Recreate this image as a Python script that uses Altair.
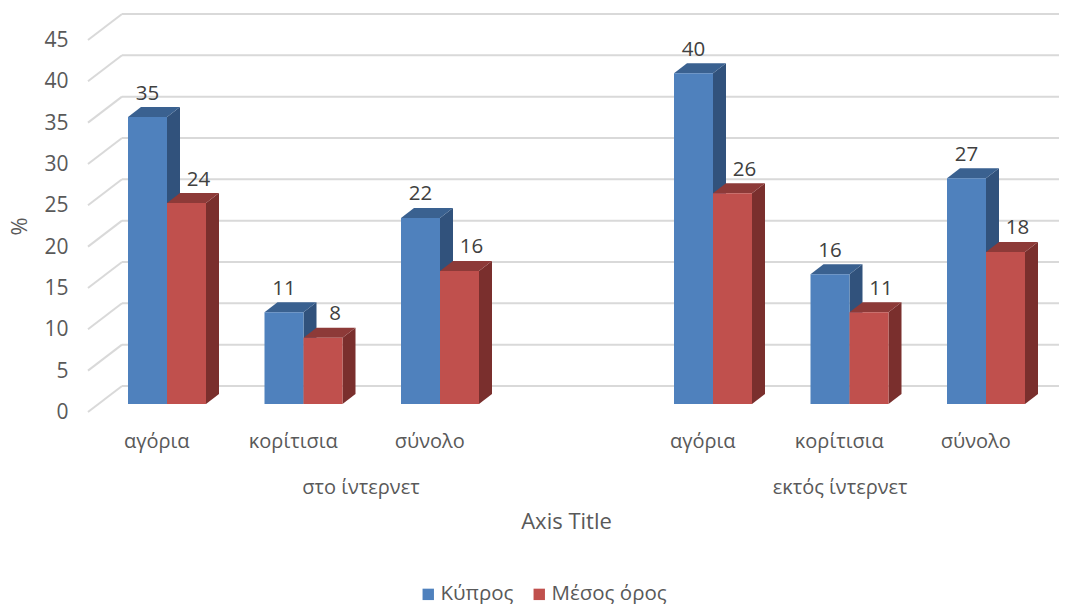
import altair as alt
import pandas as pd

FONT = "Open Sans"
categories = ["αγόρια", "κορίτισια", "σύνολο", "αγόρια", "κορίτισια", "σύνολο"]
slots = [0, 1, 2, 4, 5, 6]
groups = ["στο ίντερνετ", "εκτός ίντερνετ"]
group_pos = [2.0, 5.51]
series = ["Κύπρος", "Μέσος όρος"]
kypros = [34.7, 11.1, 22.5, 40.0, 15.7, 27.3]
mesos = [24.3, 8.0, 16.1, 25.5, 11.1, 18.4]
kypros_labels = ["35", "11", "22", "40", "16", "27"]
mesos_labels = ["24", "8", "16", "26", "11", "18"]
ticks = [0, 5, 10, 15, 20, 25, 30, 35, 40, 45]
front_colors = ["#4F81BD", "#C0504D"]
side_colors = ["#31527C", "#7A2F2D"]
top_colors = ["#3A6190", "#8D3A38"]

W, H = 971, 398
PX_X = 136.5
PX_Y = H / 48.14
X_MAX = W / PX_X
wall_dx, wall_dy = 34 / PX_X, 26 / PX_Y
bar_w = 39 / PX_X
bar_left = 40 / PX_X
base = 8 / PX_Y
dx, dy = 13 / PX_X, 10 / PX_Y

front, side, top, labels = [], [], [], []
for s_i, (name, vals, labs) in enumerate(zip(series, [kypros, mesos], [kypros_labels, mesos_labels])):
    for slot, v, lab in zip(slots, vals, labs):
        x0 = slot + bar_left + s_i * bar_w
        x1 = x0 + bar_w
        yt = v + base
        bar_id = f"{s_i}-{slot}"
        front.append(dict(series=name, x=x0, x2=x1, y=base, y2=yt))
        side += [
            dict(series=name, id=bar_id, x=x1, y=yt, y2=base),
            dict(series=name, id=bar_id, x=x1 + dx, y=yt + dy, y2=base + dy),
        ]
        top += [
            dict(series=name, id=bar_id, x=x0, y=yt, y2=yt),
            dict(series=name, id=bar_id, x=x0 + dx, y=yt + dy, y2=yt),
            dict(series=name, id=bar_id, x=x1, y=yt + dy, y2=yt),
            dict(series=name, id=bar_id, x=x1 + dx, y=yt + dy, y2=yt + dy),
        ]
        labels.append(dict(x=(x0 + x1) / 2 + s_i * 12 / PX_X, y=yt, label=lab))

slant = []
for t in ticks:
    slant += [dict(t=t, x=0, y=t), dict(t=t, x=wall_dx, y=t + wall_dy)]
back = [dict(x=wall_dx, x2=X_MAX, y=t + wall_dy) for t in ticks]

xs = alt.Scale(domain=[0, X_MAX], nice=False, zero=False)
ys = alt.Scale(domain=[0, 48.14], nice=False, zero=False)
GRID = "#D9D9D9"

slot_names = ["αγόρια", "κορίτισια", "σύνολο", "", "αγόρια", "κορίτισια", "σύνολο"]
label_expr = "[" + ",".join(f"'{c}'" for c in slot_names) + "][floor(datum.value)]"

x_axis = alt.Axis(
    values=[s + 0.5 for s in slots], labelExpr=label_expr, grid=False, ticks=False, domain=False,
    labelPadding=19, labelFontSize=20, labelColor="#595959", labelFont=FONT, labelAngle=0,
    labelOverlap=False, labelFlush=False,
    title="Axis Title", titleFont=FONT, titleFontSize=22, titleFontWeight="normal", titleColor="#595959",
    titleX=478, titleY=99, titleAlign="center",
)
y_axis = alt.Axis(
    values=ticks, grid=False, ticks=False, domain=False, labelPadding=20, labelOffset=0.5,
    labelFontSize=21, labelColor="#595959", labelFont=FONT,
    title="%", titleFont=FONT, titleFontSize=22, titleFontWeight="normal", titleColor="#595959",
    titleX=-57, titleY=212, titleAlign="center",
)

slant_layer = alt.Chart(pd.DataFrame(slant)).mark_line(color=GRID, strokeWidth=2).encode(
    x=alt.X("x:Q", scale=xs, axis=x_axis), y=alt.Y("y:Q", scale=ys, axis=y_axis), detail="t:N")
back_layer = alt.Chart(pd.DataFrame(back)).mark_rule(color=GRID, strokeWidth=2).encode(
    x=alt.X("x:Q", scale=xs), x2="x2:Q", y=alt.Y("y:Q", scale=ys))
side_layer = alt.Chart(pd.DataFrame(side)).mark_area(opacity=1).encode(
    x=alt.X("x:Q", scale=xs), y=alt.Y("y:Q", scale=ys), y2="y2:Q", detail="id:N",
    color=alt.Color("series:N", scale=alt.Scale(domain=series, range=side_colors), legend=None))
top_layer = alt.Chart(pd.DataFrame(top)).mark_area(opacity=1).encode(
    x=alt.X("x:Q", scale=xs), y=alt.Y("y:Q", scale=ys), y2="y2:Q", detail="id:N",
    color=alt.Color("series:N", scale=alt.Scale(domain=series, range=top_colors), legend=None))
front_layer = alt.Chart(pd.DataFrame(front)).mark_rect(opacity=1).encode(
    x=alt.X("x:Q", scale=xs), x2="x2:Q", y=alt.Y("y:Q", scale=ys), y2="y2:Q",
    color=alt.Color("series:N", scale=alt.Scale(domain=series, range=front_colors),
                    legend=alt.Legend(
                        title=None, orient="none", direction="horizontal", legendX=330, legendY=570,
                        symbolType="square", symbolSize=130, symbolStrokeWidth=0, symbolOpacity=1,
                        labelFont=FONT, labelFontSize=20.5, labelColor="#595959",
                        columnPadding=15, labelOffset=2, values=series)))
text_layer = alt.Chart(pd.DataFrame(labels)).mark_text(
    font=FONT, fontSize=20.5, color="#404040", dy=-23.5, baseline="middle", align="center").encode(
    x=alt.X("x:Q", scale=xs), y=alt.Y("y:Q", scale=ys), text="label:N")
group_layer = alt.Chart(pd.DataFrame({"x": group_pos, "label": groups})).mark_text(
    font=FONT, fontSize=20, color="#595959", baseline="middle", align="center").encode(
    x=alt.X("x:Q", scale=xs), y=alt.datum(-9.2, scale=ys), text="label:N")

chart = alt.layer(
    slant_layer, back_layer, side_layer, top_layer, front_layer, text_layer, group_layer
).resolve_scale(color="independent").properties(
    width=W, height=H, background="white",
    padding={"left": 80, "top": 6, "right": 0, "bottom": 192},
    autosize=alt.AutoSizeParams(type="none"),
).configure_view(stroke=None)

chart.save("out.html", embed_options={"renderer": "svg", "actions": False})
